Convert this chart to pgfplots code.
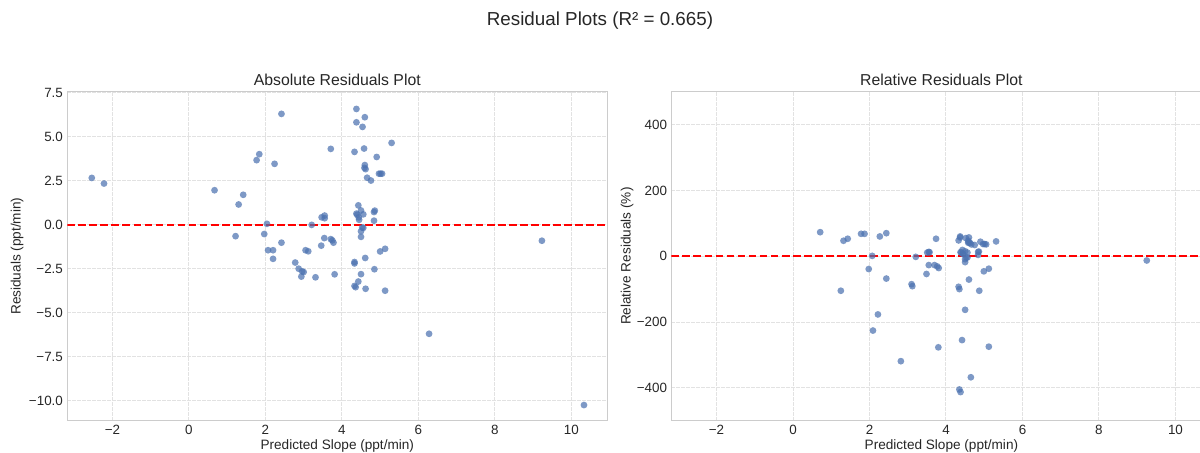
\documentclass[border=0pt]{standalone}
\usepackage{fontspec}
\setmainfont{Liberation Sans}
\usepackage{pgfplots}
\usepackage{pgfplotstable}
\pgfplotsset{compat=1.18}
\definecolor{ptc}{HTML}{4C72B0}
\definecolor{txt}{HTML}{262626}
\definecolor{gridc}{HTML}{E2E2E2}
\definecolor{framec}{HTML}{CCCCCC}

\pgfplotstableread{
x y
-2.54 2.65
-2.22 2.33
0.67 1.95
1.42 1.69
1.30 1.14
1.77 3.66
1.84 4.00
2.24 3.45
2.42 6.29
1.22 -0.66
1.97 -0.54
2.04 0.04
2.07 -1.46
2.20 -1.46
2.20 -1.95
2.42 -1.03
2.78 -2.16
2.87 -2.51
2.96 -2.66
3.00 -2.70
2.94 -2.96
3.05 -1.46
3.12 -1.52
3.21 -0.02
3.31 -3.00
3.46 -1.20
3.54 -0.77
3.47 0.41
3.55 0.51
3.55 0.36
3.71 -0.83
3.75 -0.90
3.78 -1.03
3.81 -2.83
3.71 4.30
4.33 4.13
4.38 6.57
4.60 6.10
4.38 5.81
4.54 5.55
4.58 4.32
4.60 3.38
4.59 3.22
4.62 3.15
4.66 2.66
4.76 2.50
4.91 3.84
5.30 4.64
4.97 2.89
5.01 2.89
5.05 2.89
4.43 1.09
4.38 0.62
4.40 0.56
4.50 0.80
4.56 0.58
4.44 0.41
4.45 0.27
4.84 0.71
4.86 0.79
4.84 0.22
4.53 -0.17
4.56 -0.19
4.50 -0.38
4.50 -0.70
4.61 -1.90
4.33 -2.13
4.33 -2.21
4.50 -2.82
4.43 -3.24
4.33 -3.49
4.36 -3.56
4.62 -3.65
4.85 -2.54
5.00 -1.53
5.13 -1.38
5.13 -3.76
6.28 -6.21
9.23 -0.92
10.33 -10.26
}\abstable

\pgfplotstableread{
x y
0.71 73
1.25 -105
1.32 47
1.43 53
1.78 68
1.87 68
1.98 -39
2.07 1
2.09 -226
2.22 -177
2.27 60
2.44 70
2.44 -68
2.82 -319
3.10 -85
3.12 -91
3.21 -2
3.49 -54
3.51 11
3.55 13
3.57 12
3.55 -27
3.70 -27
3.74 53
3.77 -31
3.81 -36
3.80 -277
4.33 48
4.37 60
4.60 57
4.37 57
4.52 55
4.58 47
4.60 42
4.58 41
4.63 40
4.66 36
4.75 34
4.90 44
5.31 45
4.97 37
5.01 37
5.05 36
4.43 19
4.38 12
4.40 11
4.50 15
4.56 11
4.44 8
4.45 6
4.84 13
4.86 14
4.84 4
4.53 -4
4.56 -4
4.50 -9
4.50 -18
4.60 -71
4.33 -93
4.35 -100
4.50 -163
4.42 -255
4.35 -405
4.38 -413
4.65 -368
4.87 -105
4.99 -46
5.12 -38
5.12 -275
9.25 -13
}\reltable

\pgfplotsset{
  resstyle/.style={
    scale only axis, width=270pt, height=164.5pt,
    anchor=south west,
    xmin=-3.18, xmax=10.94,
    xtick={-2,0,2,4,6,8,10},
    xticklabels={−2,0,2,4,6,8,10},
    grid=major,
    major grid style={gridc, dash pattern=on 1.7pt off 0.8pt, line width=0.5pt},
    axis line style={framec, line width=0.6pt},
    major tick length=0pt,
    tick style={draw=none},
    ticklabel style={font=\fontsize{6.7}{8}\selectfont, text=txt},
    xticklabel style={anchor=base, yshift=-6.9pt, inner sep=0pt},
    yticklabel style={anchor=east, inner sep=0pt, xshift=-2pt},
    title style={at={(axis description cs:0.5,1)}, anchor=center, yshift=-0.15pt, font=\fontsize{7.9}{10}\selectfont, text=txt},
    every axis x label/.style={at={(axis description cs:0.5,0)}, anchor=base, yshift=-14.2pt, font=\fontsize{6.8}{8}\selectfont, text=txt},
    xlabel={Predicted Slope (ppt/min)},
  },
  dots/.style={only marks, mark=*, color=ptc, mark size=1.7pt, mark options={solid, draw=ptc, draw opacity=0, fill=ptc, fill opacity=0.72}},
  zeroline/.style={red, line width=1pt, dash pattern=on 3.85pt off 1.67pt},
}

\begin{document}
\begin{tikzpicture}
\path[use as bounding box] (0,0) rectangle (600pt,226pt);
\node[font=\fontsize{9.4}{11}\selectfont, text=txt] at (300pt,215.5pt) {Residual Plots (R² = 0.665)};

\begin{axis}[resstyle,
  at={(33.65pt,15.65pt)},
  ymin=-11.15, ymax=7.55,
  ytick={-10,-7.5,-5,-2.5,0,2.5,5,7.5},
  yticklabels={−10.0,−7.5,−5.0,−2.5,0.0,2.5,5.0,7.5},
  title={Absolute Residuals Plot},
  every axis y label/.style={at={(axis description cs:-0.0865,0.5)}, rotate=90, anchor=base, font=\fontsize{6.8}{8}\selectfont, text=txt},
  ylabel={Residuals (ppt/min)},
]
\addplot[dots] table[x=x,y=y] {\abstable};
\addplot[zeroline] coordinates {(-3.18,0) (10.94,0)};
\end{axis}

\begin{axis}[resstyle,
  at={(335.7pt,15.65pt)},
  ymin=-500, ymax=500,
  ytick={-400,-200,0,200,400},
  yticklabels={−400,−200,0,200,400},
  title={Relative Residuals Plot},
  every axis y label/.style={at={(axis description cs:-0.0757,0.5)}, rotate=90, anchor=base, font=\fontsize{6.8}{8}\selectfont, text=txt},
  ylabel={Relative Residuals (\%)},
]
\addplot[dots] table[x=x,y=y] {\reltable};
\addplot[zeroline] coordinates {(-3.18,0) (10.94,0)};
\end{axis}
\end{tikzpicture}
\end{document}
